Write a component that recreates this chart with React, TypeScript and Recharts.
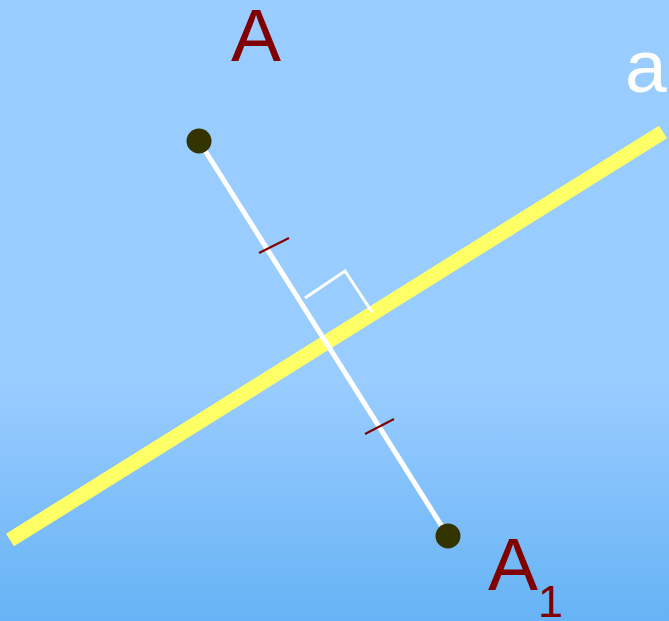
import { ComposedChart, Scatter, XAxis, YAxis } from "recharts";

// picture coordinates: x to the right, y downward (y axis reversed)
const lineAX = [10, 663];
const lineAY = [540, 132];

const segmentX = [199, 448];
const segmentY = [141, 536];

const tick1X = [259, 289];
const tick1Y = [253, 238];
const tick2X = [365, 394];
const tick2Y = [434, 419];

const rightAngleX = [305, 345, 372];
const rightAngleY = [298, 271, 312];

const pointNames = ["A", "A1"];
const pointX = [199, 448];
const pointY = [141, 536];

const labelNames = ["A", "A", "a"];
const labelSubs = ["", "1", ""];
const labelColors = ["#800000", "#800000", "#ffffff"];
const labelX = [231, 488, 625];
const labelY = [61, 590, 92];

const zip = (xs: number[], ys: number[]) => xs.map((x, i) => ({ x, y: ys[i] }));

const lineA = zip(lineAX, lineAY);
const segment = zip(segmentX, segmentY);
const tick1 = zip(tick1X, tick1Y);
const tick2 = zip(tick2X, tick2Y);
const rightAngle = zip(rightAngleX, rightAngleY);
const points = pointNames.map((name, i) => ({ name, x: pointX[i], y: pointY[i] }));
const labels = labelNames.map((name, i) => ({
  name,
  sub: labelSubs[i],
  color: labelColors[i],
  x: labelX[i],
  y: labelY[i],
}));

const noDot = () => <g />;

const Dot = (props: any) => (
  <circle cx={props.cx} cy={props.cy} r={12.5} fill="#333300" />
);

const Label = (props: any) => {
  const { cx, cy, payload } = props;
  return (
    <text
      x={cx}
      y={cy}
      fill={payload.color}
      fontSize={75}
      fontFamily="'Liberation Sans', Arial, sans-serif"
    >
      {payload.name}
      {payload.sub ? (
        <tspan dy={27} fontSize={45}>
          {payload.sub}
        </tspan>
      ) : null}
    </text>
  );
};

export default function App() {
  return (
    <div
      style={{
        position: "fixed",
        left: 0,
        top: 0,
        width: 669,
        height: 621,
        background: "linear-gradient(to bottom, #99ccff 0%, #99ccff 62%, #66b3f5 100%)",
      }}
    >
      <ComposedChart
        width={669}
        height={621}
        margin={{ top: 0, right: 0, bottom: 0, left: 0 }}
      >
        <XAxis type="number" dataKey="x" domain={[0, 669]} hide />
        <YAxis type="number" dataKey="y" domain={[0, 621]} reversed hide />

        <Scatter
          data={lineA}
          line={{ stroke: "#ffff66", strokeWidth: 15 }}
          shape={noDot}
          isAnimationActive={false}
        />
        <Scatter
          data={segment}
          line={{ stroke: "#ffffff", strokeWidth: 5 }}
          shape={noDot}
          isAnimationActive={false}
        />
        <Scatter
          data={tick1}
          line={{ stroke: "#800000", strokeWidth: 2 }}
          shape={noDot}
          isAnimationActive={false}
        />
        <Scatter
          data={tick2}
          line={{ stroke: "#800000", strokeWidth: 2 }}
          shape={noDot}
          isAnimationActive={false}
        />
        <Scatter
          data={rightAngle}
          line={{ stroke: "#ffffff", strokeWidth: 3, fill: "none" }}
          shape={noDot}
          isAnimationActive={false}
        />
        <Scatter data={points} shape={Dot} isAnimationActive={false} />
        <Scatter data={labels} shape={Label} isAnimationActive={false} />
      </ComposedChart>
    </div>
  );
}
